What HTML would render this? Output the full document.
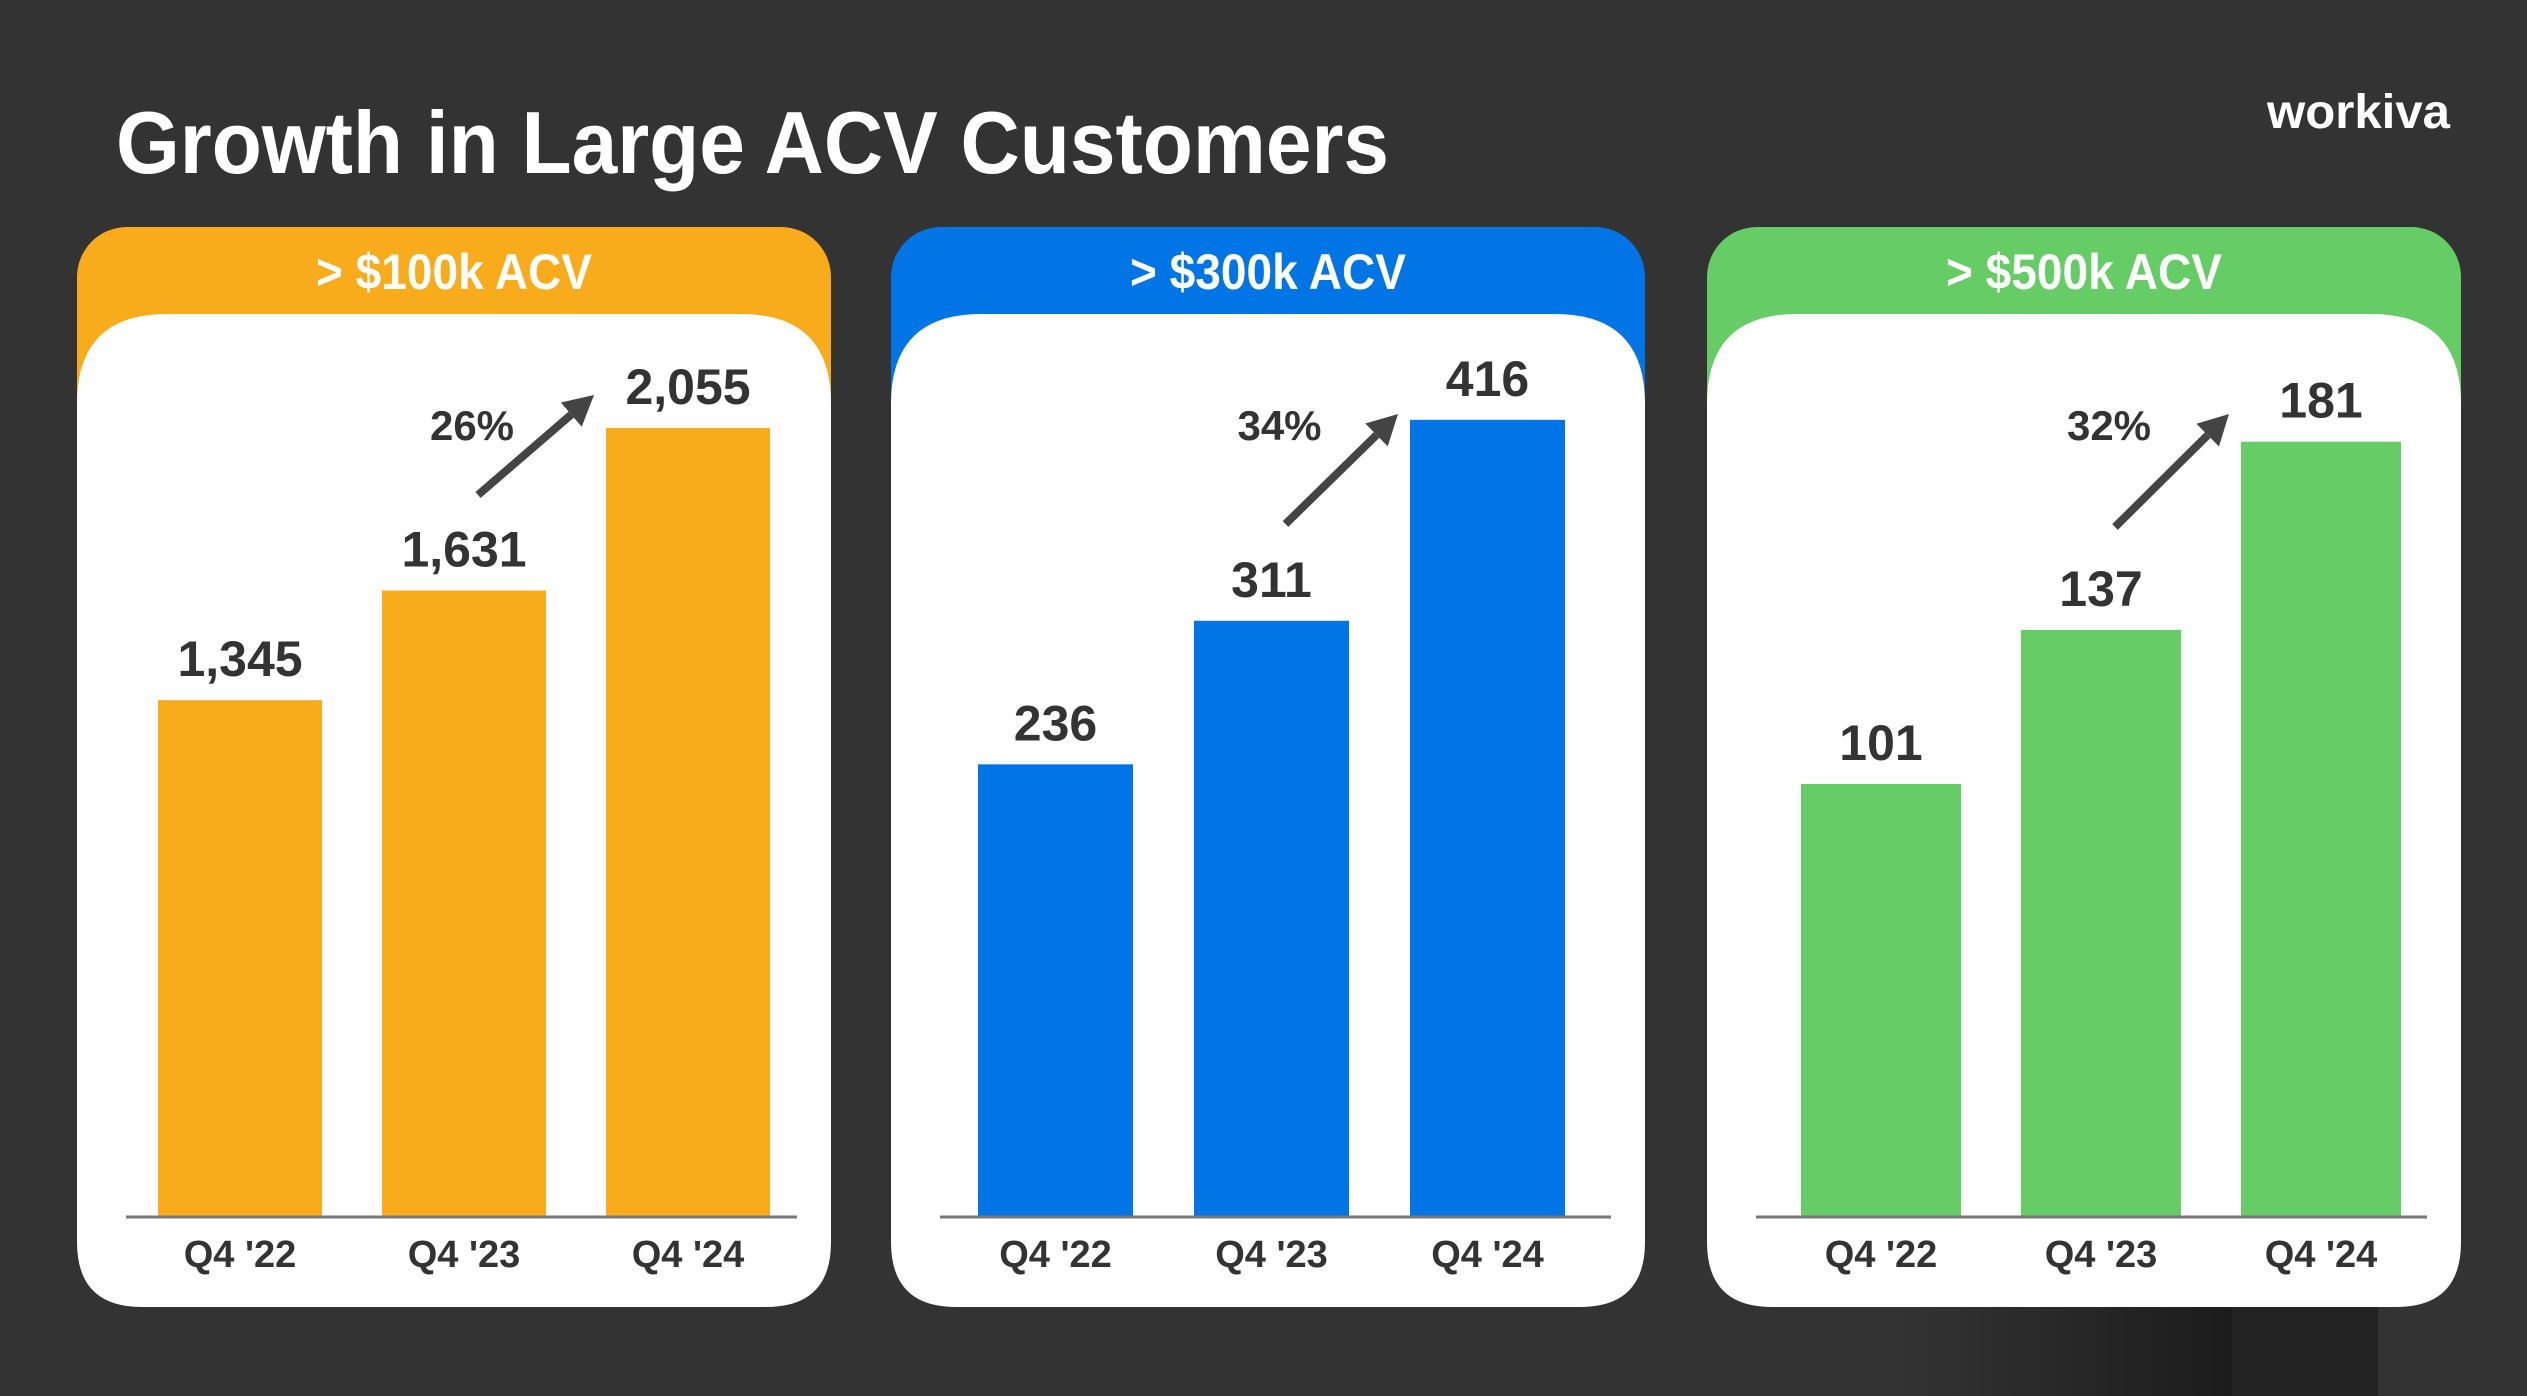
<!DOCTYPE html>
<html><head><meta charset="utf-8"><style>
html,body{margin:0;padding:0;background:#333333;}
svg{display:block;}
text{font-family:"Liberation Sans",sans-serif;font-weight:bold;}
</style></head><body>
<svg id="chart" width="2527" height="1396" viewBox="0 0 2527 1396" xmlns="http://www.w3.org/2000/svg">
<defs>
<linearGradient id="shade" x1="0" x2="1" y1="0" y2="0"><stop offset="0" stop-color="#333"/><stop offset="1" stop-color="#1c1c1c"/></linearGradient>
</defs>
<rect x="0" y="0" width="2527" height="1396" fill="#333333"/>
<rect x="1900" y="1307" width="332" height="89" fill="url(#shade)"/>
<rect x="2232" y="1307" width="146" height="89" fill="#222222"/>
<text x="116" y="173" font-size="88" fill="#ffffff" textLength="1273" lengthAdjust="spacingAndGlyphs">Growth in Large ACV Customers</text>
<text x="2267" y="128" font-size="48" fill="#ffffff" textLength="183" lengthAdjust="spacingAndGlyphs">workiva</text>
<g id="panels"></g>
</svg>
<script>
const categories = ["Q4 '22", "Q4 '23", "Q4 '24"];
const panelTitles = ["> $100k ACV", "> $300k ACV", "> $500k ACV"];
const values100k = [1345, 1631, 2055];
const values300k = [236, 311, 416];
const values500k = [101, 137, 181];
const growthLabels = ["26%", "34%", "32%"];
const axisMax = [2086, 418, 187];
const seriesList = [values100k, values300k, values500k];

const NS = "http://www.w3.org/2000/svg";
const colors = ["#F9AC1B", "#0275E6", "#66CC66"];
const panelX = [77, 891, 1707];
const barStartX = [158, 978, 1801];
const slotW = [224, 216, 220];
const barWs = [164, 155, 160];
const arrowStartY = [495, 524, 527];
const arrowEndY = [395, 414, 414];
const panelW = 754;
const top0 = 227, headerH = 87, bottom = 1307;
const axisY = 1216;
const plotH = 800;

function el(tag, attrs, parent){
  const e = document.createElementNS(NS, tag);
  for (const k in attrs) e.setAttribute(k, attrs[k]);
  parent.appendChild(e);
  return e;
}
const root = document.getElementById('panels');
seriesList.forEach((vals, p) => {
  const px = panelX[p];
  const g = el('g', {}, root);
  
  
  const hdr = el('rect', {x:px, y:top0, width:panelW, height:200, rx:50, fill:colors[p]}, g);
  
  
  const hdr2 = el('rect', {x:px, y:top0+100, width:panelW, height:120, fill:colors[p]}, g);
  
  
  const body = el('path', {d:`M${px} ${top0+headerH+90} Q${px} ${top0+headerH} ${px+90} ${top0+headerH} L${px+panelW-90} ${top0+headerH} Q${px+panelW} ${top0+headerH} ${px+panelW} ${top0+headerH+90} L${px+panelW} ${bottom-65} Q${px+panelW} ${bottom} ${px+panelW-65} ${bottom} L${px+65} ${bottom} Q${px} ${bottom} ${px} ${bottom-65} Z`, fill:'#ffffff'}, g);
  
  
  const t = el('text', {x:px+panelW/2, y:top0+62, 'font-size':50, fill:'#ffffff', 'text-anchor':'middle', textLength:276, lengthAdjust:'spacingAndGlyphs'}, g);
  t.textContent = panelTitles[p];
  
  

  const yScale = v => axisY - v / axisMax[p] * plotH;
  const barW = barWs[p];
  const xScale = i => barStartX[p] + i * slotW[p];
  vals.forEach((v, i) => {
    const y = yScale(v);
    const b = el('rect', {x:xScale(i), y:y, width:barW, height:axisY - y, fill:colors[p]}, g);
    
    
    const lab = el('text', {x:xScale(i)+barW/2, y:y-24, 'font-size':50, fill:'#333333', 'text-anchor':'middle'}, g);
    lab.textContent = v.toLocaleString('en-US');
    
    
    const xl = el('text', {x:xScale(i)+barW/2, y:1267, 'font-size':38, fill:'#333333', 'text-anchor':'middle'}, g);
    xl.textContent = categories[i];
    
    
  });
  const ax = el('line', {x1:px+49, x2:px+panelW-34, y1:axisY+1, y2:axisY+1, stroke:'#777777', 'stroke-width':3}, g);
  
  
  const sx = xScale(1) + barW/2 + 14, sy = arrowStartY[p];
  const ex = xScale(2) - 12, ey = arrowEndY[p];
  const ang = Math.atan2(ey - sy, ex - sx);
  const ah = 30, aw = 16;
  const bx = ex - ah*Math.cos(ang), by = ey - ah*Math.sin(ang);
  const ln = el('line', {x1:sx, y1:sy, x2:bx, y2:by, stroke:'#444444', 'stroke-width':8}, g);
  
  
  const nx = -Math.sin(ang), ny = Math.cos(ang);
  const hd = el('polygon', {points:`${ex},${ey} ${bx+nx*aw},${by+ny*aw} ${bx-nx*aw},${by-ny*aw}`, fill:'#444444'}, g);
  
  
  const pct = el('text', {x:sx - 6, y:440, 'font-size':42, fill:'#333333', 'text-anchor':'middle'}, g);
  pct.textContent = growthLabels[p];
  
  
});
</script>
</body></html>
